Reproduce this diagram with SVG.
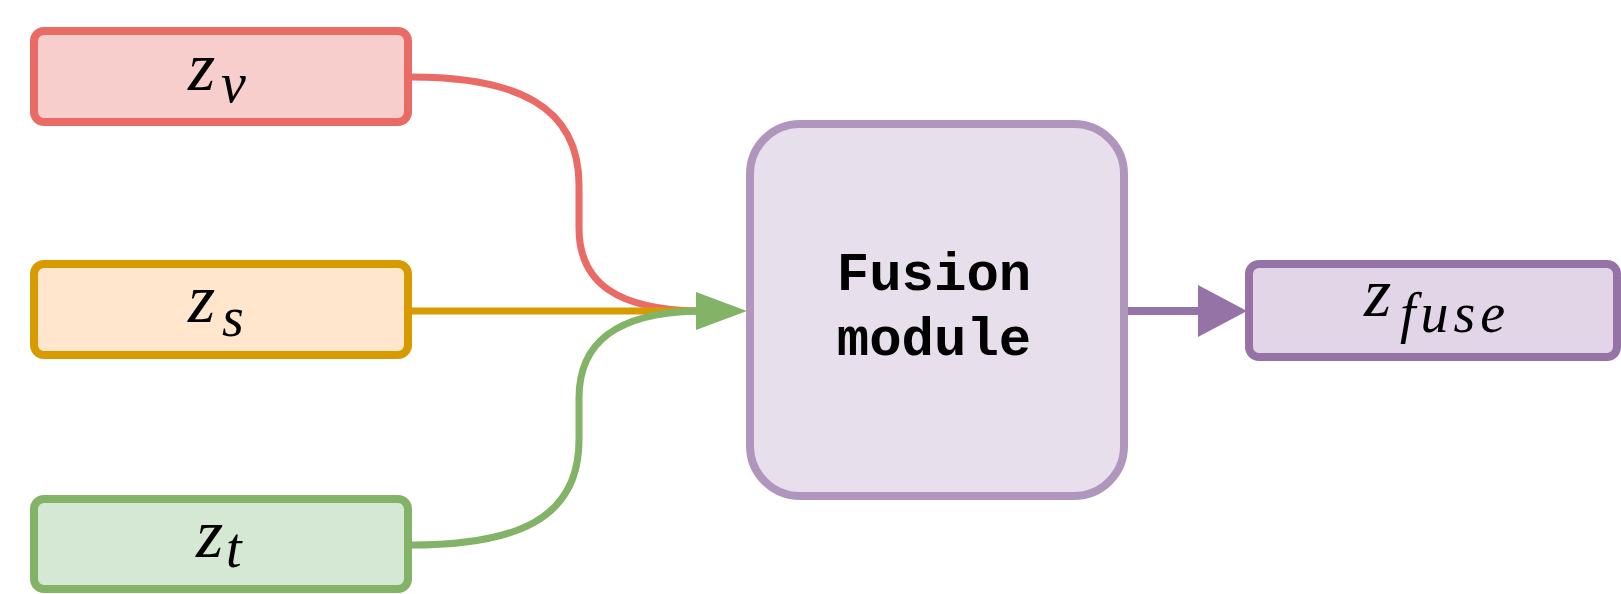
<svg xmlns="http://www.w3.org/2000/svg" width="1621" height="594" viewBox="0 0 1621 594">
  <style>
    .box { stroke-width: 8; }
    .math { font-family: "Liberation Serif", "DejaVu Serif", serif; font-style: italic; fill: #000; }
    .z { font-size: 70px; }
    .sub { font-size: 56px; }
    .mono { font-family: "Liberation Mono", "DejaVu Sans Mono", monospace; font-weight: bold; font-size: 54px; fill: #000; text-anchor: middle; }
    .edge { fill: none; stroke-width: 7; }
  </style>
  <rect width="1621" height="594" fill="#ffffff"/>
  <g id="node-zv">
    <rect class="box" x="34" y="31" width="374" height="91" rx="10" fill="#F8CECC" stroke="#EA6B66"/>
    <text class="math z" x="188" y="90">z</text>
    <text class="math sub" x="221" y="102">v</text>
  </g>
  <g id="node-zs">
    <rect class="box" x="34" y="264" width="374" height="91" rx="10" fill="#FFE6CC" stroke="#D79B00"/>
    <text class="math z" x="188" y="322">z</text>
    <text class="math sub" x="222" y="336">s</text>
  </g>
  <g id="node-zt">
    <rect class="box" x="34" y="499" width="374" height="90" rx="10" fill="#D5E8D4" stroke="#82B366"/>
    <text class="math z" x="196" y="557">z</text>
    <text class="math sub" x="226" y="567">t</text>
  </g>
  <g id="node-fusion">
    <rect class="box" x="750" y="124" width="374" height="372" rx="50" fill="#E8DFED" stroke="#B096BD"/>
    <text class="mono" x="934" y="290">Fusion</text>
    <text class="mono" x="934" y="355">module</text>
  </g>
  <g id="node-zfuse">
    <rect class="box" x="1249" y="264" width="368" height="93" rx="10" fill="#E1D5E7" stroke="#9673A6"/>
    <text class="math z" x="1364" y="316">z</text>
    <text class="math sub" x="1400" y="332" textLength="105" lengthAdjust="spacing">fuse</text>
  </g>
  <g id="connectors">
    <path class="edge" stroke="#EA6B66" d="M411,77 C515,77 579,105 579,185 L579,228 C579,285 620,309 696,311"/>
    <path class="edge" stroke="#D79B00" d="M411,311 L696,311"/>
    <path class="edge" stroke="#82B366" d="M411,545 C515,545 579,520 579,440 L579,398 C579,340 620,313 696,311"/>
    <polygon points="696,292 747,311 696,330" fill="#82B366"/>
    <path fill="none" stroke="#9673A6" stroke-width="8" d="M1128,311 L1199,311"/>
    <polygon points="1198,285 1247,311 1198,337" fill="#9673A6"/>
  </g>
</svg>
